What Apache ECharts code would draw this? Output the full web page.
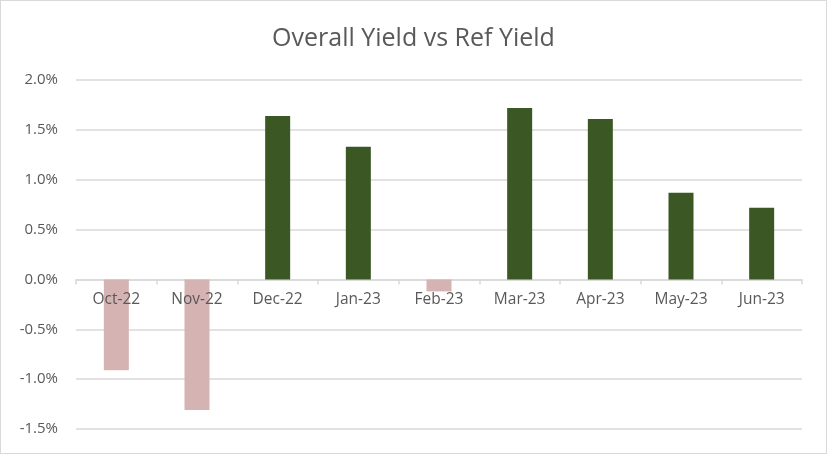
<!DOCTYPE html>
<html>
<head>
<meta charset="utf-8">
<script src="https://cdn.jsdelivr.net/npm/echarts@6/dist/echarts.min.js"></script>
<style>
  html, body { margin: 0; padding: 0; background: #fff; }
  #chart { width: 827px; height: 454px; box-sizing: border-box; border: 1px solid #d9d9d9; }
</style>
</head>
<body>
<div id="chart"></div>
<script>
// 月份与收益差（%）
const months = ['Oct-22', 'Nov-22', 'Dec-22', 'Jan-23', 'Feb-23', 'Mar-23', 'Apr-23', 'May-23', 'Jun-23']
const yieldDiff = [-0.91, -1.31, 1.64, 1.33, -0.12, 1.72, 1.61, 0.87, 0.72]

const Y_MIN = -1.5
const Y_MAX = 2.0

const POS_COLOR = '#3a5724'
const NEG_COLOR = '#d6b3b3'
const TEXT_COLOR = '#595959'
const GRID_COLOR = '#d9d9d9'

const GRID = { left: 75, right: 24, top: 79, bottom: 24 }
const CHART_H = 454

// 标签轴贴在 0 线上：按网格高度换算偏移
const zeroOffset = -((CHART_H - GRID.top - GRID.bottom) * (0 - Y_MIN) / (Y_MAX - Y_MIN))

const chart = echarts.init(document.getElementById('chart'), null, { renderer: 'canvas' })

chart.setOption({
    animation: false,
    title: {
        text: 'Overall Yield vs Ref Yield',
        left: 'center',
        top: 20,
        textStyle: { fontFamily: 'Open Sans', fontWeight: 'normal', fontSize: 25, color: TEXT_COLOR }
    },
    grid: Object.assign({ outerBoundsMode: 'none', containLabel: false }, GRID),
    xAxis: [{
        type: 'category',
        data: months,
        axisLine: { onZero: true, lineStyle: { color: GRID_COLOR, width: 1.5 } },
        axisTick: { show: true, length: 5, lineStyle: { color: GRID_COLOR, width: 1.5 } },
        axisLabel: { show: false }
    }, {
        // 仅显示标签，叠在柱子之上
        type: 'category',
        data: months,
        position: 'bottom',
        offset: zeroOffset,
        z: 5,
        axisLine: { show: false, onZero: false },
        axisTick: { show: false },
        axisLabel: { color: TEXT_COLOR, fontFamily: 'Open Sans', fontSize: 15.5, margin: 13 }
    }],
    yAxis: {
        type: 'value',
        min: Y_MIN,
        max: Y_MAX,
        interval: 0.5,
        axisLine: { show: false },
        axisTick: { show: false },
        splitLine: { lineStyle: { color: GRID_COLOR, width: 1.5 } },
        axisLabel: {
            color: TEXT_COLOR,
            fontFamily: 'Open Sans',
            fontSize: 15,
            margin: 18,
            formatter: (v) => v.toFixed(1) + '%'
        }
    },
    series: [{
        type: 'bar',
        data: yieldDiff,
        barWidth: 25,
        itemStyle: {
            color: (p) => (p.value >= 0 ? POS_COLOR : NEG_COLOR)
        }
    }]
})
</script>
</body>
</html>
